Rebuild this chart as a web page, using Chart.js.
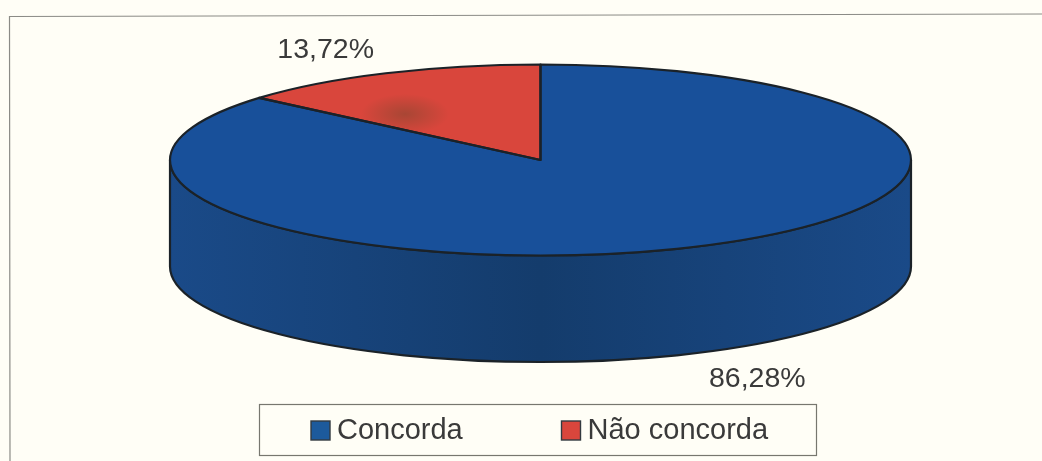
<!DOCTYPE html>
<html lang="pt">
<head>
<meta charset="utf-8">
<title>Concorda / Não concorda</title>
<style>
  html, body { margin: 0; padding: 0; background: #fffef6; }
  canvas { display: block; }
</style>
<script src="https://cdn.jsdelivr.net/npm/chart.js@4"></script>
</head>
<body>
<canvas id="chart" width="1042" height="461"></canvas>
<script>
// Answer shares, in percent
const categories = ['Concorda', 'Não concorda'];
const shares = [86.28, 13.72];
const topColors = ['#18509a', '#d9463c'];
const swatchColors = ['#1c5a9c', '#d9463c'];

// Tilted disc geometry
const disc = { cx: 540.5, cy: 160, rx: 370.5, ry: 95.5, depth: 106.5 };
const ink = '#3a3a3a';
const outline = '#1b2228';
const fontFamily = '"Liberation Sans", Arial, sans-serif';

// Where each percentage sits relative to the rim point at the slice's middle angle
const labelOffsets = [[62, 132], [-60, -23]];

function squash(ctx, arc) {
  const r = arc.outerRadius;
  ctx.translate(disc.cx, disc.cy);
  ctx.scale(disc.rx / r, disc.ry / r);
  ctx.translate(-arc.x, -arc.y);
}

const tiltedDisc = {
  id: 'tiltedDisc',
  beforeDraw(chart) {
    const { ctx, width, height } = chart;
    ctx.save();
    ctx.fillStyle = '#fffef6';
    ctx.fillRect(0, 0, width, height);
    // Outer frame, open at the right and bottom
    ctx.strokeStyle = '#8b8b86';
    ctx.lineWidth = 1.2;
    ctx.beginPath();
    ctx.moveTo(10, 461);
    ctx.lineTo(9.5, 16.5);
    ctx.lineTo(1042, 14);
    ctx.stroke();
    ctx.restore();
  },
  beforeDatasetsDraw(chart) {
    const { ctx } = chart;
    const arcs = chart.getDatasetMeta(0).data;
    const { cx, cy, rx, ry, depth } = disc;
    // Wall of the disc: only the angles facing the viewer are visible
    ctx.save();
    arcs.forEach(arc => {
      const lo = Math.max(arc.startAngle, 0);
      const hi = Math.min(arc.endAngle, Math.PI);
      if (hi <= lo) return;
      const g = ctx.createLinearGradient(cx - rx, 0, cx + rx, 0);
      g.addColorStop(0, '#1a4a88');
      g.addColorStop(0.5, '#143c6c');
      g.addColorStop(1, '#1a4a88');
      ctx.beginPath();
      ctx.ellipse(cx, cy, rx, ry, 0, lo, hi);
      ctx.ellipse(cx, cy + depth, rx, ry, 0, hi, lo, true);
      ctx.closePath();
      ctx.fillStyle = g;
      ctx.fill();
      ctx.strokeStyle = outline;
      ctx.lineWidth = 2.2;
      ctx.stroke();
    });
    ctx.restore();
    // Slices are drawn by the library inside this flattened space
    ctx.save();
    squash(ctx, arcs[0]);
  },
  afterDatasetsDraw(chart) {
    const { ctx } = chart;
    ctx.restore();
    const arcs = chart.getDatasetMeta(0).data;
    const { cx, cy, rx, ry } = disc;

    // Soft dark patch on the smaller slice
    const red = arcs[1];
    ctx.save();
    ctx.beginPath();
    ctx.moveTo(cx, cy);
    ctx.ellipse(cx, cy, rx, ry, 0, red.startAngle, red.endAngle);
    ctx.closePath();
    ctx.clip();
    ctx.translate(405, 114);
    ctx.scale(2.2, 1);
    const patch = ctx.createRadialGradient(0, 0, 0, 0, 0, 20);
    patch.addColorStop(0, 'rgba(120,70,45,0.5)');
    patch.addColorStop(1, 'rgba(120,70,45,0)');
    ctx.fillStyle = patch;
    ctx.fillRect(-60, -40, 120, 80);
    ctx.restore();

    // Slice outlines at an even width, unaffected by the flattening
    ctx.save();
    ctx.strokeStyle = outline;
    ctx.lineWidth = 2.2;
    ctx.lineJoin = 'round';
    arcs.forEach(arc => {
      ctx.beginPath();
      ctx.moveTo(cx, cy);
      ctx.ellipse(cx, cy, rx, ry, 0, arc.startAngle, arc.endAngle);
      ctx.closePath();
      ctx.stroke();
    });
    ctx.restore();
  },
  afterDraw(chart) {
    const { ctx } = chart;
    const arcs = chart.getDatasetMeta(0).data;
    const { cx, cy, rx, ry } = disc;
    ctx.save();
    ctx.font = '28.5px ' + fontFamily;
    ctx.fillStyle = ink;
    ctx.textAlign = 'center';
    ctx.textBaseline = 'middle';

    // Percentage labels
    arcs.forEach((arc, i) => {
      const mid = (arc.startAngle + arc.endAngle) / 2;
      const x = cx + rx * Math.cos(mid) + labelOffsets[i][0];
      const y = cy + ry * Math.sin(mid) + labelOffsets[i][1];
      ctx.fillText(shares[i].toFixed(2).replace('.', ',') + '%', x, y);
    });

    // Legend panel
    ctx.font = '29px ' + fontFamily;
    ctx.strokeStyle = '#77776f';
    ctx.lineWidth = 1.2;
    ctx.strokeRect(259.5, 404.5, 557, 51);
    const swatchX = [311, 561.5];
    ctx.textAlign = 'left';
    categories.forEach((name, i) => {
      ctx.fillStyle = swatchColors[i];
      ctx.fillRect(swatchX[i], 421, 19, 19);
      ctx.strokeStyle = '#333a40';
      ctx.lineWidth = 1.4;
      ctx.strokeRect(swatchX[i], 421, 19, 19);
      ctx.fillStyle = ink;
      ctx.fillText(name, swatchX[i] + 26, 431);
    });
    ctx.restore();
  }
};

new Chart(document.getElementById('chart'), {
  type: 'pie',
  data: {
    labels: categories,
    datasets: [{
      data: shares,
      backgroundColor: topColors,
      borderWidth: 0
    }]
  },
  options: {
    responsive: false,
    animation: false,
    rotation: 0,
    plugins: {
      legend: { display: false },
      tooltip: { enabled: false }
    }
  },
  plugins: [tiltedDisc]
});
</script>
</body>
</html>
